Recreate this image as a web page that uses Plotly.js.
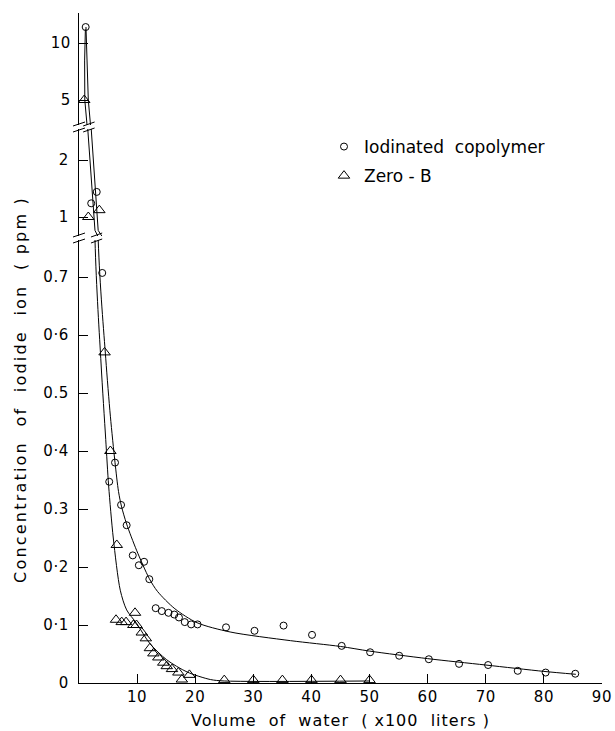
<!DOCTYPE html>
<html>
<head>
<meta charset="utf-8">
<script src="https://cdn.plot.ly/plotly-3.0.1.min.js"></script>
<style>
  html, body { margin: 0; padding: 0; background: #fff; }
  #chart { width: 615px; height: 731px; }
  #chart .xtitle { letter-spacing: 1px; }
  #chart .annotation-text { letter-spacing: 2.2px; }
  #chart .xtick text, #chart .ytick text, #chart .y2tick text, #chart .y3tick text { letter-spacing: 0.6px; }
</style>
</head>
<body>
<div id="chart"></div>
<script>
// ---------- Data ----------
// Iodinated copolymer (open circles)
const copolymerVolume = [1.15, 2.1, 3.05, 4.0, 5.2, 6.2, 7.24, 8.2, 9.25, 10.3, 11.2, 12.1,
  13.2, 14.25, 15.4, 16.4, 17.2, 18.2, 19.3, 20.4, 25.3, 30.2, 35.2, 40.1, 45.2, 50.1,
  55.1, 60.2, 65.4, 70.4, 75.5, 80.3, 85.4];
const copolymerConc = [11.4, 1.24, 1.44, 0.707, 0.347, 0.38, 0.307, 0.272, 0.22, 0.203, 0.209, 0.179,
  0.129, 0.124, 0.121, 0.118, 0.113, 0.105, 0.101, 0.101, 0.096, 0.09, 0.099, 0.083, 0.064, 0.053,
  0.047, 0.041, 0.033, 0.031, 0.021, 0.018, 0.016];

// Zero-B (open triangles)
const zeroBVolume = [0.9, 1.6, 3.5, 4.4, 5.4, 6.5, 6.37, 7.35, 8.1, 9.35, 9.64, 9.9, 10.8, 11.5,
  12.2, 12.8, 13.65, 14.5, 15.1, 16.0, 17.1, 17.7, 19.0, 25, 30, 35, 40, 45, 50];
const zeroBConc = [5.0, 1.0, 1.12, 0.57, 0.40, 0.238, 0.109, 0.105, 0.105, 0.1, 0.121, 0.1, 0.087, 0.077,
  0.06, 0.051, 0.044, 0.035, 0.029, 0.024, 0.018, 0.006, 0.014, 0.005, 0.005, 0.005, 0.005, 0.005, 0.005];

// Hand-drawn fitted curves
const copolymerCurveX = [1.2, 1.35, 1.6, 2.0, 3.3, 4.6, 5.4, 6.2, 6.8, 7.3, 8.2, 9.9, 12.1, 13.5,
  16.5, 20.3, 26, 36.4, 45, 50, 60, 70, 80, 85.5];
const copolymerCurveY = [11.4, 8.5, 5.0, 2.7, 0.765, 0.56, 0.46, 0.38, 0.33, 0.305, 0.274, 0.229, 0.18, 0.158,
  0.128, 0.104, 0.088, 0.073, 0.063, 0.055, 0.042, 0.031, 0.02, 0.015];
const zeroBCurveX = [1.1, 0.97, 1.0, 1.4, 2.75, 3.8, 4.6, 5.1, 5.9, 7.1, 8.2, 9.9, 12.2, 15.1, 18.6,
  22.6, 25, 50];
const zeroBCurveY = [11.2, 8.5, 5.0, 2.7, 0.765, 0.55, 0.42, 0.34, 0.25, 0.16, 0.126, 0.103, 0.068, 0.04, 0.019,
  0.006, 0.0035, 0.0035];

// Tick labels
const xTickVals = [10, 20, 30, 40, 50, 60, 70, 80, 90];
const yLowTickVals = [0, 0.1, 0.2, 0.3, 0.4, 0.5, 0.6, 0.7];
const yLowTickText = ['0', '0·1', '0·2', '0.3', '0·4', '0.5', '0·6', '0.7'];
const yMidTickVals = [1, 2];
const yTopTickVals = [5, 10];

// ---------- Layout geometry (pixels) ----------
const W = 615, H = 731;
const L = 79, R = 13, T = 13, B = 48;
const PW = W - L - R, PH = H - T - B;
const bottomPx = H - B;
const fy = py => (bottomPx - py) / PH;     // pixel row -> paper fraction
const fx = px => (px - L) / PW;            // pixel column -> paper fraction
const xScale = PW / 90;

const lowRange = [0, (bottomPx - 240) / 580];
const midRange = [1 - (236 - 217) / 57, 1 + (217 - 129) / 57];
const topRange = [5 - (125 - 100) / 11.4, 10 + (43 - 13) / 11.4];

const FONT = 'DejaVu Sans, Liberation Sans, sans-serif';
const black = '#000';

// each marker belongs to exactly one axis segment
const axes = [
  { key: 'y',  line: 'spline', lo: -1, hi: lowRange[1] },
  { key: 'y2', line: 'linear', lo: lowRange[1], hi: midRange[1] },
  { key: 'y3', line: 'linear', lo: midRange[1], hi: 100 }
];
function pick(xs, ys, a) {
  const ox = [], oy = [];
  ys.forEach((v, i) => { if (v > a.lo && v <= a.hi) { ox.push(xs[i]); oy.push(v); } });
  return { x: ox, y: oy };
}

const traces = [];
axes.forEach(a => {
  traces.push({
    x: copolymerCurveX, y: copolymerCurveY, yaxis: a.key, xaxis: 'x',
    mode: 'lines', line: { color: black, width: 1, shape: a.line, smoothing: 0.8 },
    hoverinfo: 'skip', showlegend: false
  });
  traces.push({
    x: zeroBCurveX, y: zeroBCurveY, yaxis: a.key, xaxis: 'x',
    mode: 'lines', line: { color: black, width: 1, shape: a.line, smoothing: 0.8 },
    hoverinfo: 'skip', showlegend: false
  });
});
axes.forEach((a, i) => {
  const d = pick(copolymerVolume, copolymerConc, a);
  traces.push({
    x: d.x, y: d.y, yaxis: a.key, xaxis: 'x',
    mode: 'markers', name: 'Iodinated  copolymer',
    marker: { symbol: 'circle-open', size: 7, color: black, line: { width: 1, color: black } },
    showlegend: i === 0, legendgroup: 'a', cliponaxis: true
  });
});
axes.forEach((a, i) => {
  const d = pick(zeroBVolume, zeroBConc, a);
  traces.push({
    x: d.x, y: d.y, yaxis: a.key, xaxis: 'x',
    mode: 'markers', name: 'Zero - B',
    marker: { symbol: 'triangle-up-open', size: 10, color: black, line: { width: 1, color: black } },
    showlegend: i === 0, legendgroup: 'b', cliponaxis: true
  });
});

// Break marks ("//") on the axis and on the curves
const shapes = [];
function breakMark(pxL, pxR, py) {
  [[py + 5, py + 1], [py - 1, py - 5]].forEach(([y0, y1]) => {
    shapes.push({ type: 'line', xref: 'paper', yref: 'paper',
      x0: fx(pxL), x1: fx(pxR), y0: fy(y0), y1: fy(y1),
      line: { color: black, width: 1 } });
  });
}
const lowBreak = 238, highBreak = 127;
breakMark(L - 6, L + 6, lowBreak);
breakMark(L - 6, L + 6, highBreak);
breakMark(L + 2.75 * xScale - 4, L + 3.3 * xScale + 4, lowBreak);
breakMark(L + 1.4 * xScale - 4, L + 2.0 * xScale + 4, highBreak);

const yCommon = {
  showline: true, linecolor: black, linewidth: 1, ticks: 'inside', ticklen: 9,
  tickcolor: black, tickwidth: 1, showgrid: false, zeroline: false, anchor: 'x',
  tickfont: { family: FONT, size: 15, color: black }, ticklabelstandoff: 6, fixedrange: true
};

const layout = {
  width: W, height: H,
  margin: { l: L, r: R, t: T, b: B, pad: 0 },
  paper_bgcolor: '#fff', plot_bgcolor: 'rgba(0,0,0,0)',
  font: { family: FONT, size: 15, color: black },
  showlegend: true,
  legend: {
    x: fx(324), y: fy(129), xanchor: 'left', yanchor: 'top',
    font: { family: FONT, size: 17, color: black },
    bgcolor: 'rgba(0,0,0,0)', borderwidth: 0, tracegroupgap: 4
  },
  xaxis: {
    range: [0, 90], domain: [0, 1], anchor: 'y',
    showline: true, linecolor: black, linewidth: 1,
    ticks: 'inside', ticklen: 9, tickcolor: black, tickwidth: 1,
    tickvals: xTickVals, ticktext: xTickVals.map(String),
    showgrid: false, zeroline: false, fixedrange: true,
    tickfont: { family: FONT, size: 15, color: black },
    title: { text: 'Volume  of  water  ( x100  liters )', font: { family: FONT, size: 16, color: black }, standoff: 9 }
  },
  yaxis: Object.assign({}, yCommon, {
    domain: [0, fy(240)], range: lowRange,
    tickvals: yLowTickVals, ticktext: yLowTickText
  }),
  yaxis2: Object.assign({}, yCommon, {
    domain: [fy(236), fy(129)], range: midRange,
    tickvals: yMidTickVals, ticktext: yMidTickVals.map(String)
  }),
  yaxis3: Object.assign({}, yCommon, {
    domain: [fy(125), 1], range: topRange, ticklabelstandoff: 4,
    tickvals: yTopTickVals, ticktext: yTopTickVals.map(String)
  }),
  shapes: shapes,
  annotations: [{
    text: 'Concentration  of  iodide  ion  ( ppm )',
    xref: 'paper', yref: 'paper', x: fx(20), y: fy(390),
    xanchor: 'center', yanchor: 'middle', textangle: -90, showarrow: false,
    font: { family: FONT, size: 16, color: black }
  }]
};

Plotly.newPlot('chart', traces, layout, { displayModeBar: false, staticPlot: true });
</script>
</body>
</html>
